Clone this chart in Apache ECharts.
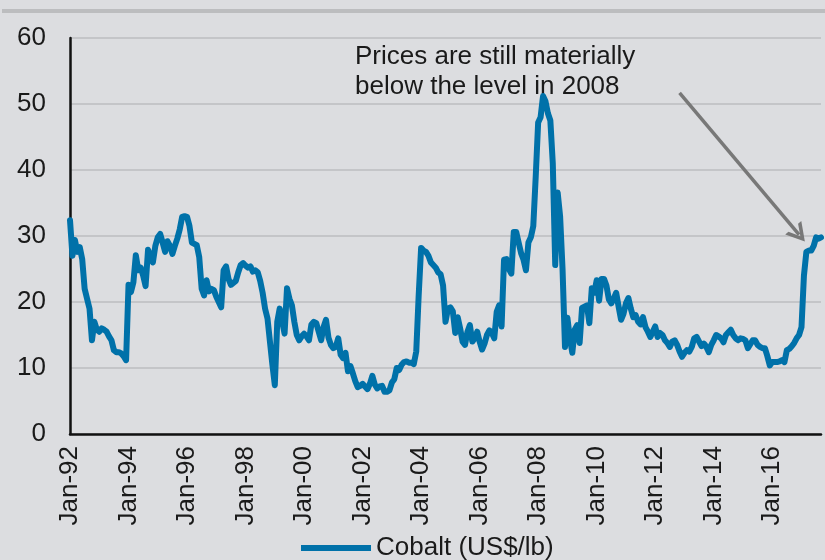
<!DOCTYPE html>
<html>
<head>
<meta charset="utf-8">
<script src="https://cdn.jsdelivr.net/npm/echarts@6/dist/echarts.min.js"></script>
<style>
  html, body { margin: 0; padding: 0; background: #dcdde0; }
  #chart { width: 825px; height: 560px; }
</style>
</head>
<body>
<div id="chart"></div>
<script>
// Monthly cobalt price (US$/lb), Jan-92 .. Sep-17
const y1992 = [32.4, 27.0, 29.4, 27.6, 28.3, 26.5, 22.0, 20.5, 19.0, 14.2, 17.0, 15.8];
const y1993 = [15.5, 16.0, 15.8, 15.5, 14.8, 14.2, 12.7, 12.4, 12.4, 12.2, 11.8, 11.2];
const y1994 = [22.6, 21.5, 23.0, 27.1, 24.8, 25.2, 24.0, 22.4, 27.9, 27.0, 26.0, 28.5];
const y1995 = [29.8, 30.3, 29.0, 27.6, 29.2, 28.5, 27.3, 28.5, 29.6, 31.0, 32.9, 33.0];
const y1996 = [32.9, 31.5, 29.0, 28.8, 28.6, 26.8, 22.0, 21.0, 23.3, 21.6, 22.0, 21.8];
const y1997 = [20.8, 20.0, 19.2, 24.8, 25.4, 23.5, 22.6, 22.9, 23.2, 24.5, 25.6, 25.9];
const y1998 = [25.5, 25.2, 25.4, 24.6, 24.8, 24.5, 23.2, 21.4, 19.0, 17.5, 14.0, 10.5];
const y1999 = [7.4, 17.0, 19.0, 17.1, 15.2, 22.1, 20.5, 19.5, 17.0, 15.0, 14.2, 14.8];
const y2000 = [15.2, 14.8, 14.2, 16.6, 17.0, 16.8, 15.5, 14.2, 16.2, 17.3, 14.6, 13.5];
const y2001 = [13.0, 13.2, 14.5, 12.0, 11.5, 12.3, 9.5, 10.3, 9.2, 8.0, 7.1, 7.3];
const y2002 = [7.6, 7.2, 6.8, 7.6, 8.8, 7.5, 6.9, 7.2, 7.3, 6.4, 6.4, 6.6];
const y2003 = [7.8, 8.3, 10.0, 9.7, 10.5, 10.9, 11.0, 10.8, 10.8, 10.6, 12.5, 21.0];
const y2004 = [28.2, 27.8, 27.6, 27.0, 26.0, 25.6, 25.2, 24.5, 24.2, 22.5, 17.0, 19.0];
const y2005 = [19.2, 18.6, 15.3, 17.7, 16.0, 14.0, 13.5, 15.5, 16.5, 14.0, 14.5, 15.5];
const y2006 = [14.0, 12.8, 13.7, 15.0, 15.7, 15.3, 14.5, 18.5, 19.5, 16.3, 26.4, 26.5];
const y2007 = [25.0, 24.3, 30.6, 30.6, 29.0, 27.4, 26.4, 24.8, 29.0, 29.8, 31.5, 39.0];
const y2008 = [47.2, 48.0, 51.2, 50.4, 48.6, 47.5, 41.0, 25.6, 36.6, 33.0, 25.0, 13.2];
const y2009 = [17.6, 14.5, 12.3, 15.8, 16.5, 13.8, 19.1, 19.3, 19.5, 16.8, 22.1, 21.4];
const y2010 = [23.3, 20.2, 23.5, 23.5, 22.5, 20.4, 19.8, 20.5, 21.4, 19.3, 17.3, 18.2];
const y2011 = [19.8, 20.6, 19.0, 17.7, 18.0, 17.0, 16.6, 17.7, 16.2, 15.5, 14.7, 15.5];
const y2012 = [16.3, 14.7, 15.3, 15.0, 14.2, 13.8, 13.2, 14.0, 14.2, 13.5, 12.5, 11.7];
const y2013 = [12.3, 12.7, 12.5, 13.2, 14.5, 14.7, 14.0, 13.3, 13.7, 13.2, 12.4, 13.5];
const y2014 = [14.2, 15.0, 14.8, 14.5, 13.9, 15.0, 15.4, 15.8, 15.0, 14.5, 14.2, 14.5];
const y2015 = [14.4, 14.2, 13.0, 13.6, 14.2, 14.2, 13.5, 13.2, 13.0, 13.0, 11.8, 10.4];
const y2016 = [10.9, 10.9, 10.9, 11.0, 11.2, 10.9, 12.7, 12.9, 13.3, 13.8, 14.5, 15.0];
const y2017 = [16.2, 24.0, 27.6, 27.8, 27.8, 28.5, 29.8, 29.6, 29.8];

const yearBlocks = [y1992, y1993, y1994, y1995, y1996, y1997, y1998, y1999, y2000,
  y2001, y2002, y2003, y2004, y2005, y2006, y2007, y2008, y2009, y2010, y2011,
  y2012, y2013, y2014, y2015, y2016, y2017];
const firstYear = 1992;
const monthNames = ['Jan','Feb','Mar','Apr','May','Jun','Jul','Aug','Sep','Oct','Nov','Dec'];

const cobalt = [];
const categories = [];
yearBlocks.forEach((vals, k) => {
  const yy = String((firstYear + k) % 100).padStart(2, '0');
  vals.forEach((v, m) => {
    cobalt.push(v);
    categories.push(monthNames[m] + '-' + yy);
  });
});

const seriesName = 'Cobalt (US$/lb)';
const annotationText = 'Prices are still materially\nbelow the level in 2008';
// arrow from/to in data space: [category, value]
const arrowFrom = ['Nov-12', 51.7];
const arrowTo = ['Dec-16', 30.2];

const FONT = '"Liberation Sans", Arial, sans-serif';
const chart = echarts.init(document.getElementById('chart'), null, { renderer: 'canvas' });
chart.setOption({
  backgroundColor: '#dcdde0',
  animation: false,
  textStyle: { fontFamily: FONT },
  grid: { left: 70, right: 4, top: 38, bottom: 126, containLabel: false },
  graphic: [
    { type: 'rect', left: 2, top: 9, shape: { width: 823, height: 4 }, style: { fill: '#bcbdbf' } },
    { type: 'text', left: 355, top: 42,
      style: { text: annotationText, font: '26px ' + FONT, fill: '#1a1a1a', lineHeight: 30 } }
  ],
  legend: {
    left: 296, top: 530,
    itemWidth: 70, itemHeight: 6, itemGap: 10,
    icon: 'rect',
    textStyle: { fontSize: 26, color: '#1a1a1a', fontFamily: FONT },
    data: [seriesName]
  },
  xAxis: {
    type: 'category',
    data: categories,
    boundaryGap: false,
    axisLine: { lineStyle: { color: '#111', width: 2.5 } },
    axisTick: { show: false },
    axisLabel: { interval: 23, rotate: 90, margin: 12, fontSize: 26, color: '#1a1a1a', fontFamily: FONT },
    splitLine: { show: false }
  },
  yAxis: {
    type: 'value',
    min: 0, max: 60, interval: 10,
    axisLine: { show: true, lineStyle: { color: '#111', width: 2.5 } },
    axisTick: { show: false },
    axisLabel: { margin: 24, fontSize: 26, color: '#1a1a1a', fontFamily: FONT },
    splitLine: { lineStyle: { color: '#c4c5c8', width: 2 } }
  },
  series: [{
    name: seriesName,
    type: 'line',
    data: cobalt,
    showSymbol: false,
    symbol: 'none',
    lineStyle: { color: '#0071a9', width: 6, join: 'round', cap: 'round' },
    itemStyle: { color: '#0071a9' },
    markLine: {
      silent: true,
      symbol: ['none', 'path://M10,0 L20,18 L16,18 L10,7 L4,18 L0,18 Z'],
      symbolSize: [21, 18],
      label: { show: false },
      lineStyle: { color: '#787878', width: 3.5, type: 'solid' },
      data: [[{ coord: arrowFrom }, { coord: arrowTo }]]
    },
    z: 3
  }]
});
</script>
</body>
</html>
